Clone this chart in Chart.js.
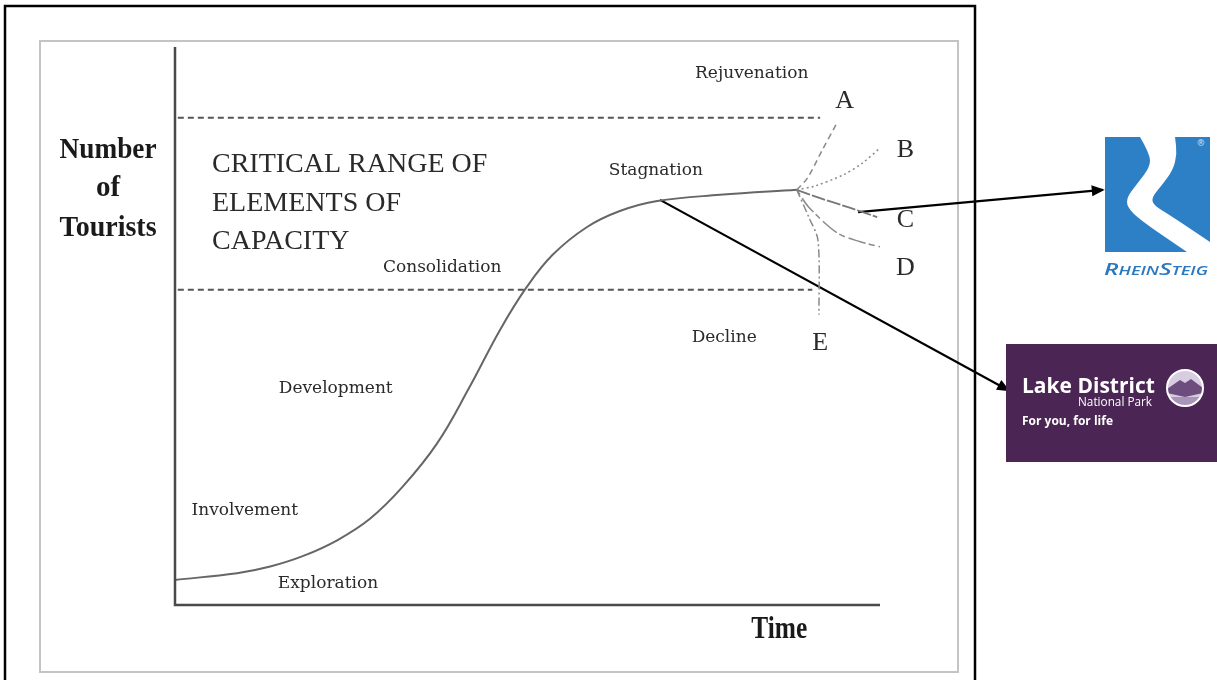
<!DOCTYPE html>
<html>
<head>
<meta charset="utf-8">
<script src="https://cdn.jsdelivr.net/npm/chart.js@4.4.1/dist/chart.umd.min.js"></script>
<style>
  html, body { margin: 0; padding: 0; background: #fff; }
  #wrap { position: relative; width: 1217px; height: 680px; }
</style>
</head>
<body>
<div id="wrap"><canvas id="c"></canvas></div>
<script>
// Tourism area life cycle: time (0-100) vs number of tourists (0-100)
const curveX = [0, 8.8, 13.5, 18.2, 23.0, 27.7, 32.3, 37.2, 41.8, 46.1, 49.9, 53.6, 58.4, 63.1, 68.4, 77.3, 88.2];
const curveY = [4.5, 5.7, 6.9, 8.8, 11.6, 15.5, 21.2, 29.0, 39.1, 49.3, 57.0, 62.8, 67.7, 70.6, 72.4, 73.5, 74.4];

// post-stagnation branches A-E, all starting at the end of the curve
const branchAX = [88.2, 89.7, 91.8, 93.9];
const branchAY = [74.4, 76.5, 81.5, 86.4];
const branchBX = [88.2, 90.8, 94.8, 97.5, 100];
const branchBY = [74.4, 75.1, 77.1, 79.2, 81.9];
const branchCX = [88.2, 91.5, 95.7, 99.6];
const branchCY = [74.4, 72.9, 71.2, 69.5];
const branchDX = [88.2, 89.9, 93.9, 97.2, 100];
const branchDY = [74.4, 71.3, 66.7, 65.1, 64.2];
const branchEX = [88.2, 89.9, 91.2, 91.35];
const branchEY = [74.4, 69.5, 65.4, 52.0];

// critical range of capacity (upper / lower limits)
const capacityUpper = 87.3;
const capacityLower = 56.5;
const capacityUpperX = [0.4, 91.5];
const capacityLowerX = [0.4, 90.4];

// pointer arrows to the two logos
const arrowRheinX = [96.9, 131.6];
const arrowRheinY = [70.4, 74.4];
const arrowLakeX = [68.8, 118.2];
const arrowLakeY = [72.6, 38.5];

const stageNames = ['Exploration', 'Involvement', 'Development', 'Consolidation', 'Stagnation', 'Decline', 'Rejuvenation'];
const branchNames = ['A', 'B', 'C', 'D', 'E'];
const capacityText = ['CRITICAL RANGE OF', 'ELEMENTS OF', 'CAPACITY'];
const yTitle = ['Number', 'of', 'Tourists'];
const xTitle = 'Time';

// label anchors (data units), kept apart from the values above
const stagePos = [[21.7, 3.9], [9.9, 17.0], [22.8, 38.7], [37.9, 60.4], [68.2, 77.8], [77.9, 47.9], [81.8, 95.3]];
const branchPos = [[95.0, 90.3], [103.6, 81.5], [103.6, 69.0], [103.6, 60.4], [91.5, 47.0]];
const capacityPos = [[5.25, 79.0], [5.25, 72.0], [5.25, 65.05]];
const yTitlePos = [[-9.5, 81.5], [-9.5, 74.7], [-9.5, 67.5]];
const xTitlePos = [85.7, -4.5];

const pts = (xs, ys) => xs.map((x, i) => ({ x, y: ys[i] }));

function line(xs, ys, style) {
  return Object.assign({
    data: pts(xs, ys), showLine: true, pointRadius: 0, fill: false,
    clip: false, borderCapStyle: 'butt', tension: 0.3
  }, style);
}

const datasets = [
  line([0, 0, 100], [100, 0, 0], { borderColor: '#4a4a4a', borderWidth: 2.5, tension: 0 }),
  line(capacityUpperX, [capacityUpper, capacityUpper], { borderColor: '#555', borderWidth: 2, borderDash: [6, 4], tension: 0 }),
  line(capacityLowerX, [capacityLower, capacityLower], { borderColor: '#555', borderWidth: 2, borderDash: [6, 4], tension: 0 }),
  line(curveX, curveY, { borderColor: '#666', borderWidth: 2, tension: 0.4 }),
  line(branchAX, branchAY, { borderColor: '#8a8a8a', borderWidth: 1.5, borderDash: [6, 4] }),
  line(branchBX, branchBY, { borderColor: '#8a8a8a', borderWidth: 1.5, borderDash: [2, 3] }),
  line(branchCX, branchCY, { borderColor: '#777', borderWidth: 1.8, borderDash: [14, 2] }),
  line(branchDX, branchDY, { borderColor: '#8a8a8a', borderWidth: 1.5, borderDash: [6, 4, 18, 3] }),
  line(branchEX, branchEY, { borderColor: '#8a8a8a', borderWidth: 1.5, borderDash: [8, 3, 2, 3] }),
  line(arrowRheinX, arrowRheinY, { borderColor: '#000', borderWidth: 2.2, tension: 0, arrow: true }),
  line(arrowLakeX, arrowLakeY, { borderColor: '#000', borderWidth: 2.2, tension: 0, arrow: true })
];

function smoothPath(ctx, p, cont) {
  if (cont) ctx.lineTo(p[0][0], p[0][1]); else ctx.moveTo(p[0][0], p[0][1]);
  for (let i = 1; i < p.length - 1; i++) {
    const mx = (p[i][0] + p[i + 1][0]) / 2, my = (p[i][1] + p[i + 1][1]) / 2;
    ctx.quadraticCurveTo(p[i][0], p[i][1], mx, my);
  }
  const l = p[p.length - 1];
  ctx.lineTo(l[0], l[1]);
}

function drawRheinSteig(ctx) {
  const x0 = 1105, y0 = 137, w = 105, h = 115;
  ctx.save();
  ctx.fillStyle = '#2e80c6';
  ctx.fillRect(x0, y0, w, h);
  // white river band forming the R
  const left = [[35, 0], [45, 17], [45, 30], [32, 47], [22, 60], [22, 70], [35, 83], [82, 115]];
  const right = [[105, 105], [68, 80], [48, 68], [47, 60], [57, 48], [68, 33], [72, 17], [70, 0]];
  ctx.beginPath();
  smoothPath(ctx, left.map(p => [x0 + p[0], y0 + p[1]]), false);
  ctx.lineTo(x0 + w, y0 + h);
  smoothPath(ctx, right.map(p => [x0 + p[0], y0 + p[1]]), true);
  ctx.closePath();
  ctx.fillStyle = '#fff';
  ctx.fill();
  ctx.fillStyle = '#cfe1f2';
  ctx.font = '9px "DejaVu Sans"';
  ctx.textAlign = 'center';
  ctx.textBaseline = 'middle';
  ctx.fillText('\u00AE', 1201, 144);
  // small-caps italic word mark
  const parts = [['R', 17], ['HEIN', 12.5], ['S', 17], ['TEIG', 12.5]];
  ctx.textAlign = 'left';
  ctx.textBaseline = 'alphabetic';
  let total = 0;
  parts.forEach(([t, s]) => { ctx.font = `italic 600 ${s}px "Open Sans"`; total += ctx.measureText(t).width; });
  const k = 104 / total;
  ctx.translate(1104, 275);
  ctx.scale(k, 1);
  let cx = 0;
  ctx.fillStyle = '#2a78c0';
  parts.forEach(([t, s]) => {
    ctx.font = `italic 600 ${s}px "Open Sans"`;
    ctx.fillText(t, cx, 0);
    cx += ctx.measureText(t).width;
  });
  ctx.restore();
}

function drawLakeDistrict(ctx) {
  ctx.save();
  ctx.fillStyle = '#4b2553';
  ctx.fillRect(1006, 344, 211, 118);
  ctx.fillStyle = '#fff';
  ctx.textAlign = 'left';
  ctx.textBaseline = 'alphabetic';
  ctx.font = 'bold 21px "Open Sans"';
  ctx.fillText('Lake District', 1022, 393, 136);
  ctx.font = '13px "Open Sans"';
  ctx.fillText('National Park', 1078, 406, 74);
  ctx.font = 'bold 12px "Open Sans"';
  ctx.fillText('For you, for life', 1022, 425, 94);
  // circular emblem
  const cx = 1185, cy = 388, r = 18;
  ctx.beginPath();
  ctx.arc(cx, cy, r, 0, Math.PI * 2);
  ctx.save();
  ctx.clip();
  ctx.fillStyle = '#d8cce0';
  ctx.fillRect(cx - r, cy - r, 2 * r, 2 * r);
  ctx.beginPath();
  ctx.moveTo(cx - r, cy + 1);
  ctx.lineTo(cx - 5, cy - 8);
  ctx.lineTo(cx, cy - 5);
  ctx.lineTo(cx + 6, cy - 9);
  ctx.lineTo(cx + r, cy);
  ctx.lineTo(cx + r, cy + 5);
  ctx.lineTo(cx, cy + 9);
  ctx.lineTo(cx - r, cy + 5);
  ctx.closePath();
  ctx.fillStyle = '#6d4d7d';
  ctx.fill();
  ctx.fillStyle = '#a995b8';
  ctx.fillRect(cx - r, cy + 9, 2 * r, r);
  ctx.restore();
  ctx.beginPath();
  ctx.arc(cx, cy, r, 0, Math.PI * 2);
  ctx.strokeStyle = '#fff';
  ctx.lineWidth = 2;
  ctx.stroke();
  ctx.restore();
}

const framePlugin = {
  id: 'frame',
  beforeDraw(chart) {
    const ctx = chart.ctx;
    ctx.save();
    ctx.fillStyle = '#fff';
    ctx.fillRect(0, 0, chart.width, chart.height);
    ctx.strokeStyle = '#000';
    ctx.lineWidth = 2.5;
    ctx.strokeRect(5, 6, 970, 690);
    ctx.strokeStyle = '#c4c4c4';
    ctx.lineWidth = 2;
    ctx.strokeRect(40, 41, 918, 631);
    ctx.restore();
  },
  afterDatasetsDraw(chart) {
    const ctx = chart.ctx;
    chart.data.datasets.forEach((ds, i) => {
      if (!ds.arrow) return;
      const el = chart.getDatasetMeta(i).data;
      const a = el[el.length - 2], b = el[el.length - 1];
      const ang = Math.atan2(b.y - a.y, b.x - a.x);
      ctx.save();
      ctx.translate(b.x, b.y);
      ctx.rotate(ang);
      ctx.beginPath();
      ctx.moveTo(2, 0);
      ctx.lineTo(-11, -5.5);
      ctx.lineTo(-11, 5.5);
      ctx.closePath();
      ctx.fillStyle = '#000';
      ctx.fill();
      ctx.restore();
    });
  },
  afterDraw(chart) {
    const ctx = chart.ctx;
    const sx = chart.scales.x, sy = chart.scales.y;
    const px = p => [sx.getPixelForValue(p[0]), sy.getPixelForValue(p[1])];
    ctx.save();
    ctx.textBaseline = 'middle';
    ctx.fillStyle = '#2a2a2a';
    ctx.textAlign = 'center';
    ctx.font = '17px "DejaVu Serif"';
    stageNames.forEach((t, i) => { const [x, y] = px(stagePos[i]); ctx.fillText(t, x, y); });
    ctx.font = '26px "Liberation Serif"';
    branchNames.forEach((t, i) => { const [x, y] = px(branchPos[i]); ctx.fillText(t, x, y); });
    ctx.textAlign = 'left';
    ctx.font = '28px "Liberation Serif"';
    const capW = [290, 198, 144];
    capacityText.forEach((t, i) => { const [x, y] = px(capacityPos[i]); ctx.fillText(t, x, y, capW[i]); });
    ctx.textAlign = 'center';
    ctx.fillStyle = '#1a1a1a';
    ctx.font = 'bold 29px "Liberation Serif"';
    const tW = [97, 28, 97];
    yTitle.forEach((t, i) => { const [x, y] = px(yTitlePos[i]); ctx.fillText(t, x, y, tW[i]); });
    ctx.font = 'bold 31px "Liberation Serif"';
    const [tx, ty] = px(xTitlePos);
    ctx.fillText(xTitle, tx, ty, 56);
    ctx.restore();
    drawRheinSteig(ctx);
    drawLakeDistrict(ctx);
  }
};

new Chart(document.getElementById('c'), {
  type: 'scatter',
  data: { datasets },
  options: {
    responsive: true,
    maintainAspectRatio: false,
    animation: false,
    events: [],
    layout: { padding: { left: 175, right: 337, top: 47, bottom: 75 } },
    scales: {
      x: { type: 'linear', min: 0, max: 100, display: false },
      y: { type: 'linear', min: 0, max: 100, display: false }
    },
    plugins: { legend: { display: false }, tooltip: { enabled: false } }
  },
  plugins: [framePlugin]
});
</script>
</body>
</html>
